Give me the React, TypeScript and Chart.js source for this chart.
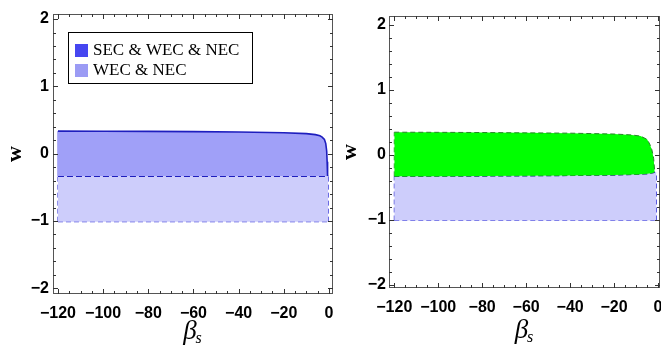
import React, { useEffect, useRef } from "react";
import { Chart, registerables } from "chart.js";
Chart.register(...registerables);

// ---------- data ----------
const xTicks = [-120, -100, -80, -60, -40, -20, 0];
const yTicks = [-2, -1, 0, 1, 2];
const legendLabels = ["SEC & WEC & NEC", "WEC & NEC"];

// left panel: SEC & WEC & NEC region
const leftBeta = [-120, -100, -80, -60, -40, -20, -10, -6, -4, -3, -2, -1.4, -1.0, -0.8, -0.6];
const leftSecTop = [0.335, 0.333, 0.331, 0.328, 0.322, 0.31, 0.297, 0.283, 0.265, 0.245, 0.21, 0.15, 0.04, -0.12, -0.333];
const leftSecBottom = [-0.333, -0.333, -0.333, -0.333, -0.333, -0.333, -0.333, -0.333, -0.333, -0.333, -0.333, -0.333, -0.333, -0.333, -0.333];
// left panel: WEC & NEC region
const leftWecBeta = [-120, -0.3];
const leftWecTop = [-0.333, -0.333];
const leftWecBottom = [-1.01, -1.01];

// right panel: green region
const rightBeta = [-120, -100, -80, -60, -40, -20, -12, -8, -5, -3.8, -2.8, -2, -1.5];
const rightGreenTop = [0.35, 0.348, 0.345, 0.34, 0.335, 0.322, 0.308, 0.29, 0.24, 0.17, 0.08, -0.05, -0.26];
const rightGreenBottom = [-0.33, -0.328, -0.325, -0.322, -0.318, -0.31, -0.303, -0.297, -0.29, -0.285, -0.28, -0.272, -0.26];
// right panel: WEC & NEC region
const rightWecBeta = [-120, -60, -20, -5, -1.5, -0.7];
const rightWecTop = [-0.33, -0.322, -0.31, -0.29, -0.27, -0.27];
const rightWecBottom = [-1.01, -1.01, -1.01, -1.01, -1.01, -1.01];

// ---------- styles ----------
const DARK_FILL = "rgb(160,160,248)";
const LIGHT_FILL = "rgb(205,205,251)";
const GREEN_FILL = "rgb(0,255,0)";
const BLUE_LINE = "rgb(30,30,190)";
const BLUE_DASH = "rgb(50,50,215)";
const GREEN_LINE = "rgb(40,130,40)";

const pts = (xs: number[], ys: number[]) => xs.map((x, i) => ({ x, y: ys[i] }));

const fmt = (v: number) => (v < 0 ? "\u2212" + Math.abs(v) : String(v));

function framePlugin(opts: any) {
  return {
    id: "frameTitles",
    afterDraw(chart: any) {
      const { ctx, chartArea, scales } = chart;
      const { left, right, top, bottom } = chartArea;
      const xs = scales.x, ys = scales.y;
      ctx.save();
      // frame
      ctx.strokeStyle = "#555";
      ctx.lineWidth = 1;
      ctx.strokeRect(left + 0.5, top + 0.5, right - left - 1, bottom - top - 1);
      // ticks
      ctx.strokeStyle = "#333";
      ctx.beginPath();
      for (let v = -120; v <= 0.001; v += 5) {
        const px = Math.round(xs.getPixelForValue(v)) + 0.5;
        const len = v % 20 === 0 ? 5 : 3;
        ctx.moveTo(px, bottom); ctx.lineTo(px, bottom - len);
        ctx.moveTo(px, top); ctx.lineTo(px, top + len);
      }
      for (let k = -10; k <= 10; k++) {
        const v = k * 0.2;
        const py = Math.round(ys.getPixelForValue(v)) + 0.5;
        const len = k % 5 === 0 ? 5 : 3;
        ctx.moveTo(left, py); ctx.lineTo(left + len, py);
        ctx.moveTo(right, py); ctx.lineTo(right - len, py);
      }
      ctx.stroke();
      // x title beta_s
      const cx = (left + right) / 2;
      ctx.fillStyle = "#000";
      ctx.textBaseline = "alphabetic";
      ctx.font = 'italic 27px "Liberation Serif"';
      const bw = ctx.measureText("\u03B2").width;
      ctx.font = 'italic 16px "Liberation Serif"';
      const sw = ctx.measureText("s").width;
      const x0 = cx - (bw + sw) / 2;
      ctx.textAlign = "left";
      ctx.font = 'italic 27px "Liberation Serif"';
      ctx.fillText("\u03B2", x0, opts.titleY);
      ctx.font = 'italic 16px "Liberation Serif"';
      ctx.fillText("s", x0 + bw - 1, opts.titleY + 4);
      // y title w
      ctx.save();
      ctx.translate(opts.wX, (top + bottom) / 2);
      ctx.rotate(-Math.PI / 2);
      ctx.textAlign = "center";
      ctx.textBaseline = "middle";
      ctx.font = 'bold 22px "Liberation Serif"';
      ctx.fillText("w", 0, 0);
      ctx.restore();
      // legend
      if (opts.legend) {
        const lx = left + 15, ly = top + 18, lw = 184, lh = 51;
        ctx.fillStyle = "#fff";
        ctx.fillRect(lx, ly, lw, lh);
        ctx.strokeStyle = "#000";
        ctx.strokeRect(lx + 0.5, ly + 0.5, lw, lh);
        const sw2 = [ "rgb(70,70,240)", "rgb(155,155,244)" ];
        ctx.font = '17px "Liberation Serif"';
        ctx.textAlign = "left";
        ctx.textBaseline = "middle";
        legendLabels.forEach((lab, i) => {
          const yy = ly + 18 + i * 20;
          ctx.fillStyle = sw2[i];
          ctx.fillRect(lx + 7, yy - 6, 13, 13);
          ctx.fillStyle = "#000";
          ctx.fillText(lab, lx + 25, yy + 1);
        });
      }
      ctx.restore();
    },
  };
}

function makeOptions(cfg: any) {
  return {
    responsive: false,
    animation: false,
    layout: { padding: { top: cfg.top, right: cfg.right, left: 0, bottom: 0 } },
    plugins: { legend: { display: false }, tooltip: { enabled: false } },
    elements: { point: { radius: 0 } },
    scales: {
      x: {
        type: "linear",
        min: cfg.xmin,
        max: cfg.xmax,
        grid: { display: false, drawTicks: false },
        border: { display: false },
        afterBuildTicks: (s: any) => { s.ticks = xTicks.map((v) => ({ value: v })); },
        afterFit: (s: any) => { s.height = cfg.xh; s.paddingLeft = 0; s.paddingRight = 0; },
        ticks: {
          padding: 10,
          color: "#000",
          maxRotation: 0,
          autoSkip: false,
          font: { family: "Liberation Sans", size: 16, weight: "bold" },
          callback: (v: any) => fmt(Number(v)),
        },
      },
      y: {
        type: "linear",
        min: cfg.ymin,
        max: cfg.ymax,
        grid: { display: false, drawTicks: false },
        border: { display: false },
        afterBuildTicks: (s: any) => { s.ticks = yTicks.map((v) => ({ value: v })); },
        afterFit: (s: any) => { s.width = cfg.yw; s.paddingTop = 0; s.paddingBottom = 0; },
        ticks: {
          padding: cfg.ypad,
          color: "#000",
          autoSkip: false,
          font: { family: "Liberation Sans", size: 16, weight: "bold" },
          callback: (v: any) => fmt(Number(v)),
        },
      },
    },
  };
}

function line(data: any, extra: any) {
  return { data, pointRadius: 0, borderWidth: 1, tension: 0, fill: false, ...extra };
}

export default function App() {
  const leftRef = useRef<HTMLCanvasElement>(null);
  const rightRef = useRef<HTMLCanvasElement>(null);

  useEffect(() => {
    const left = new Chart(leftRef.current as any, {
      type: "line",
      data: {
        datasets: [
          line(pts(leftBeta, leftSecTop), { label: legendLabels[0], borderColor: BLUE_LINE, borderWidth: 1.6, backgroundColor: DARK_FILL, fill: "+1" }),
          line(pts(leftBeta, leftSecBottom), { borderColor: "rgba(0,0,0,0)" }),
          line(pts(leftWecBeta, leftWecTop), { label: legendLabels[1], borderColor: BLUE_LINE, borderWidth: 1.6, borderDash: [6, 3], backgroundColor: LIGHT_FILL, fill: "+1" }),
          line(pts(leftWecBeta, leftWecBottom), { borderColor: BLUE_DASH, borderWidth: 1.2, borderDash: [5, 3] }),
          line(pts([leftWecBeta[0], leftWecBeta[0]], [leftWecBottom[0], leftWecTop[0]]), { borderColor: BLUE_DASH, borderDash: [5, 3] }),
          line(pts([leftWecBeta[1], leftWecBeta[1]], [leftWecBottom[1], leftWecTop[1]]), { borderColor: BLUE_DASH, borderDash: [5, 3] }),
          line(pts([leftBeta[0], leftBeta[0]], [leftSecBottom[0], leftSecTop[0]]), { borderColor: "rgb(110,110,235)" }),
        ],
      },
      options: makeOptions({ top: 14, right: 7, xmin: -122.2, xmax: 1.8, ymin: -2.085, ymax: 2.075, xh: 51, yw: 53, ypad: 4 }) as any,
      plugins: [framePlugin({ titleY: 339, wX: 15, legend: true })],
    });

    const right = new Chart(rightRef.current as any, {
      type: "line",
      data: {
        datasets: [
          line(pts(rightBeta, rightGreenTop), { borderColor: GREEN_LINE, borderDash: [5, 3], backgroundColor: GREEN_FILL, fill: "+1" }),
          line(pts(rightBeta, rightGreenBottom), { borderColor: GREEN_LINE, borderDash: [5, 3] }),
          line(pts([rightBeta[0], rightBeta[0]], [rightGreenBottom[0], rightGreenTop[0]]), { borderColor: GREEN_LINE, borderDash: [5, 3] }),
          line(pts(rightWecBeta, rightWecTop), { borderColor: BLUE_DASH, borderWidth: 1.3, borderDash: [5, 3], backgroundColor: LIGHT_FILL, fill: "+1" }),
          line(pts(rightWecBeta, rightWecBottom), { borderColor: BLUE_DASH, borderDash: [5, 3] }),
          line(pts([rightWecBeta[0], rightWecBeta[0]], [rightWecBottom[0], rightWecTop[0]]), { borderColor: BLUE_DASH, borderDash: [5, 3] }),
          line(pts([rightWecBeta[5], rightWecBeta[5]], [rightWecBottom[5], rightWecTop[5]]), { borderColor: BLUE_DASH, borderDash: [5, 3] }),
        ],
      },
      options: makeOptions({ top: 16, right: 1, xmin: -122.4, xmax: 0.9, ymin: -2.05, ymax: 2.14, xh: 57, yw: 49, ypad: 3 }) as any,
      plugins: [framePlugin({ titleY: 338, wX: 10, legend: false })],
    });

    return () => { left.destroy(); right.destroy(); };
  }, []);

  return (
    <div style={{ position: "absolute", left: 0, top: 0, width: 661, height: 345, background: "#fff" }}>
      <canvas ref={leftRef} width={340} height={345} style={{ position: "absolute", left: 0, top: 0 }} />
      <canvas ref={rightRef} width={321} height={345} style={{ position: "absolute", left: 340, top: 0 }} />
    </div>
  );
}
